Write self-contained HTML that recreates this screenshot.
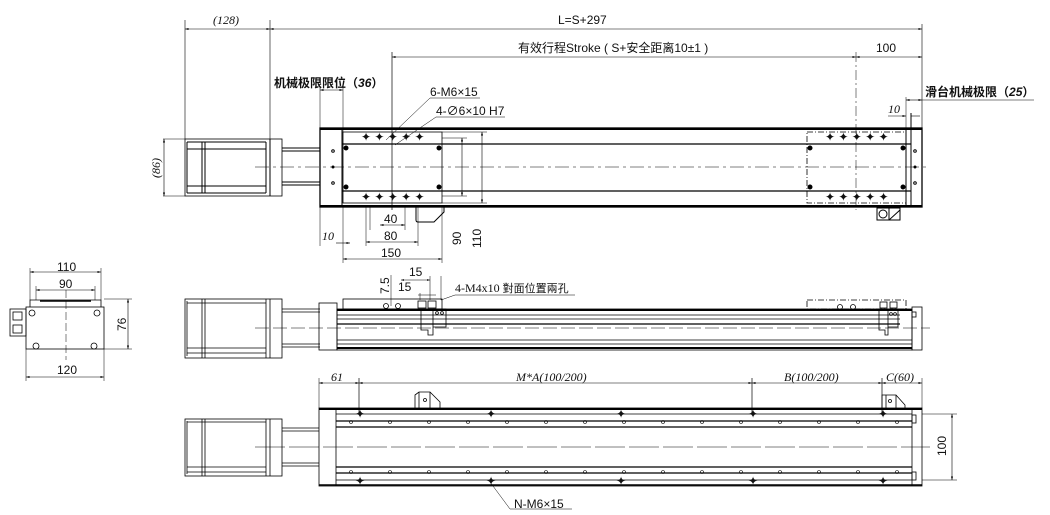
<!DOCTYPE html>
<html><head><meta charset="utf-8"><style>
html,body{margin:0;padding:0;background:#fff;}
svg{display:block;font-family:"Liberation Sans","Noto Sans CJK SC",sans-serif;}
.t{font-size:12px;fill:#111;}
.s{font-family:"Liberation Serif","Noto Serif CJK SC",serif;font-style:italic;font-size:12px;fill:#111;}
</style></head><body>
<svg width="1050" height="515" viewBox="0 0 1050 515" xmlns="http://www.w3.org/2000/svg">
<defs>
<marker id="a" viewBox="0 0 10 10" refX="10" refY="5" markerWidth="6" markerHeight="6" orient="auto-start-reverse"><path d="M0,2 L10,5 L0,8z" fill="#000"/></marker>
</defs>
<g stroke="#000" stroke-width="1" fill="none">
<!-- ===== TOP VIEW ===== -->
<line x1="185" y1="20" x2="185" y2="139" stroke-width=".6"/>
<line x1="270" y1="20" x2="270" y2="139" stroke-width=".6"/>
<line x1="185" y1="29" x2="270" y2="29" stroke-width=".6" marker-start="url(#a)" marker-end="url(#a)"/>
<line x1="270" y1="29" x2="922" y2="29" stroke-width=".6" marker-start="url(#a)" marker-end="url(#a)"/>
<line x1="922" y1="24" x2="922" y2="128" stroke-width=".6"/>
<line x1="392" y1="57" x2="856" y2="57" stroke-width=".6" marker-start="url(#a)" marker-end="url(#a)"/>
<line x1="856" y1="57" x2="922" y2="57" stroke-width=".6" marker-start="url(#a)" marker-end="url(#a)"/>
<line x1="392" y1="52" x2="392" y2="210" stroke-width=".7"/>
<line x1="856" y1="52" x2="856" y2="210" stroke-width=".5" stroke-dasharray="10,3,2,3"/>
<!-- motor -->
<rect x="185" y="139" width="97" height="57" stroke-width=".8"/>
<line x1="187" y1="142" x2="187" y2="193"/><line x1="202" y1="142" x2="202" y2="193"/><line x1="205" y1="142" x2="205" y2="193"/>
<line x1="266" y1="142" x2="266" y2="193"/><line x1="270" y1="139" x2="270" y2="196"/>
<line x1="187" y1="142" x2="266" y2="142"/><line x1="187" y1="149" x2="266" y2="149"/>
<line x1="187" y1="186" x2="266" y2="186"/><line x1="187" y1="193" x2="266" y2="193"/>
<line x1="282" y1="148" x2="320" y2="148"/><line x1="282" y1="151" x2="320" y2="151"/>
<line x1="282" y1="182" x2="320" y2="182"/><line x1="282" y1="185" x2="320" y2="185"/>
<line x1="163" y1="139" x2="185" y2="139" stroke-width=".5"/><line x1="163" y1="196" x2="185" y2="196" stroke-width=".5"/>
<line x1="164" y1="139" x2="164" y2="196" stroke-width=".6" marker-start="url(#a)" marker-end="url(#a)"/>
<!-- body -->
<rect x="320" y="128" width="602" height="79" stroke-width="1.3"/>
<line x1="320" y1="129" x2="922" y2="129" stroke-width="2"/>
<line x1="320" y1="206" x2="922" y2="206" stroke-width="2"/>
<line x1="342" y1="128" x2="342" y2="207"/>
<line x1="342" y1="144" x2="911" y2="144" stroke-width="1.2"/>
<line x1="342" y1="191" x2="911" y2="191" stroke-width="1.2"/>
<line x1="906" y1="128" x2="906" y2="207"/><line x1="911" y1="113" x2="911" y2="207"/>
<line x1="255" y1="167" x2="930" y2="167" stroke-width=".5" stroke-dasharray="14,4,3,4"/>
<circle cx="333" cy="151" r="1.3"/><circle cx="333" cy="167" r="1" fill="#000"/><circle cx="333" cy="183" r="1.3"/>
<circle cx="915" cy="151" r="1.3"/><circle cx="915" cy="167" r="1" fill="#000"/><circle cx="915" cy="183" r="1.3"/>
<!-- left carriage -->
<rect x="343" y="132" width="99" height="71" stroke-width=".8"/>
<circle cx="346" cy="148" r="2" fill="#000"/><circle cx="439" cy="148" r="2" fill="#000"/>
<circle cx="346" cy="187" r="2" fill="#000"/><circle cx="439" cy="187" r="2" fill="#000"/>
<!-- right carriage -->
<rect x="807" y="132" width="99" height="71" stroke-width=".8" stroke-dasharray="6,2,1,2"/>
<circle cx="810" cy="148" r="2" fill="#000"/><circle cx="903" cy="148" r="2" fill="#000"/>
<circle cx="810" cy="187" r="2" fill="#000"/><circle cx="903" cy="187" r="2" fill="#000"/>
<!-- brackets -->
<path d="M416 205 V220 Q416 222 418 222 H434 L444 212 V207"/>
<rect x="877" y="208" width="12" height="12"/><circle cx="883" cy="214" r="4"/><path d="M889 208 H900 V220 H889 M889 220 L900 210"/>
<!-- dims top view -->
<line x1="370" y1="205" x2="370" y2="230" stroke-width=".5"/><line x1="405" y1="205" x2="405" y2="230" stroke-width=".5"/>
<line x1="380" y1="225" x2="405" y2="225" stroke-width=".6" marker-start="url(#a)" marker-end="url(#a)"/>
<line x1="366" y1="205" x2="366" y2="246" stroke-width=".5"/><line x1="418" y1="205" x2="418" y2="246" stroke-width=".5"/>
<line x1="366" y1="242" x2="418" y2="242" stroke-width=".6" marker-start="url(#a)" marker-end="url(#a)"/>
<line x1="343" y1="207" x2="343" y2="263" stroke-width=".5"/><line x1="442" y1="207" x2="442" y2="263" stroke-width=".5"/>
<line x1="343" y1="259" x2="442" y2="259" stroke-width=".6" marker-start="url(#a)" marker-end="url(#a)"/>
<line x1="336" y1="243" x2="350" y2="243" stroke-width=".6" marker-end="url(#a)"/>
<line x1="320" y1="207" x2="320" y2="246" stroke-width=".5"/>
<line x1="442" y1="138" x2="467" y2="138" stroke-width=".5"/><line x1="442" y1="196" x2="467" y2="196" stroke-width=".5"/>
<line x1="462" y1="138" x2="462" y2="196" stroke-width=".6" marker-start="url(#a)" marker-end="url(#a)"/>
<line x1="442" y1="132" x2="487" y2="132" stroke-width=".5"/><line x1="442" y1="203" x2="487" y2="203" stroke-width=".5"/>
<line x1="482" y1="132" x2="482" y2="203" stroke-width=".6" marker-start="url(#a)" marker-end="url(#a)"/>
<line x1="320" y1="86" x2="320" y2="128" stroke-width=".5"/><line x1="343" y1="86" x2="343" y2="132" stroke-width=".5"/>
<line x1="320" y1="90" x2="343" y2="90" stroke-width=".6" marker-start="url(#a)" marker-end="url(#a)"/>
<line x1="386" y1="140" x2="430" y2="98" stroke-width=".5"/><line x1="430" y1="98" x2="480" y2="98" stroke-width=".5"/>
<line x1="395" y1="145" x2="436" y2="117" stroke-width=".5"/><line x1="436" y1="117" x2="505" y2="117" stroke-width=".5"/>
<line x1="906" y1="97" x2="906" y2="128" stroke-width=".5"/>
<line x1="906" y1="100" x2="922" y2="100" stroke-width=".6" marker-start="url(#a)" marker-end="url(#a)"/>
<line x1="922" y1="100" x2="1034" y2="100" stroke-width=".6"/>
<line x1="888" y1="116" x2="906" y2="116" stroke-width=".6" marker-end="url(#a)"/>
<line x1="911" y1="116" x2="920" y2="116" stroke-width=".6"/>
</g>
<g fill="#000">
<!-- crosses top carriages -->
<g font-size="10" class="t">
<text x="361" y="141" class="t">✦ ✦ ✦ ✦ ✦</text>
<text x="361" y="201" class="t">✦ ✦ ✦ ✦ ✦</text>
<text x="825" y="141" class="t">✦ ✦ ✦ ✦ ✦</text>
<text x="825" y="201" class="t">✦ ✦ ✦ ✦ ✦</text>
</g>
</g>
<text x="213" y="24" class="s">(128)</text>
<text x="558" y="24" class="t">L=S+297</text>
<text x="518" y="52" class="t">有效行程Stroke ( S+安全距离10±1 )</text>
<text x="876" y="52" class="t">100</text>
<text x="274" y="87" class="t" font-weight="bold">机械极限限位（<tspan font-style="italic">36</tspan>）</text>
<text x="925" y="96" class="t" font-weight="bold">滑台机械极限（<tspan font-style="italic">25</tspan>）</text>
<text x="430" y="96" class="t">6-M6×15</text>
<text x="436" y="115" class="t">4-∅6×10 H7</text>
<text x="888" y="113" class="s">10</text>
<text x="322" y="240" class="s">10</text>
<text x="384" y="223" class="t">40</text>
<text x="384" y="240" class="t">80</text>
<text x="381" y="257" class="t">150</text>
<text transform="translate(461,245) rotate(-90)" class="t">90</text>
<text transform="translate(481,248) rotate(-90)" class="t">110</text>
<text transform="translate(160,178) rotate(-90)" class="s">(86)</text>

<!-- ===== END VIEW ===== -->
<g stroke="#000" fill="none" stroke-width=".8">
<path d="M30 307 V300 H101 V307"/><line x1="40" y1="301" x2="91" y2="301" stroke-width="1.5"/>
<rect x="26" y="307" width="78" height="42"/>
<rect x="10" y="309" width="16" height="27"/><rect x="13" y="312" width="9" height="8"/><rect x="13" y="325" width="9" height="8"/>
<circle cx="32" cy="313" r="3"/><circle cx="97" cy="313" r="3"/><circle cx="36" cy="346" r="3"/><circle cx="94" cy="346" r="3"/>
<line x1="66" y1="290" x2="66" y2="360" stroke-width=".5" stroke-dasharray="8,3"/>
<line x1="30" y1="268" x2="30" y2="300" stroke-width=".5"/><line x1="101" y1="268" x2="101" y2="300" stroke-width=".5"/>
<line x1="30" y1="272" x2="101" y2="272" stroke-width=".6" marker-start="url(#a)" marker-end="url(#a)"/>
<line x1="36" y1="286" x2="36" y2="300" stroke-width=".5"/><line x1="95" y1="286" x2="95" y2="300" stroke-width=".5"/>
<line x1="36" y1="290" x2="95" y2="290" stroke-width=".6" marker-start="url(#a)" marker-end="url(#a)"/>
<line x1="104" y1="299" x2="132" y2="299" stroke-width=".5"/><line x1="104" y1="349" x2="132" y2="349" stroke-width=".5"/>
<line x1="128" y1="299" x2="128" y2="349" stroke-width=".6" marker-start="url(#a)" marker-end="url(#a)"/>
<line x1="26" y1="349" x2="26" y2="381" stroke-width=".5"/><line x1="104" y1="349" x2="104" y2="381" stroke-width=".5"/>
<line x1="26" y1="377" x2="104" y2="377" stroke-width=".6" marker-start="url(#a)" marker-end="url(#a)"/>
</g>
<text x="57" y="271" class="t">110</text>
<text x="59" y="288" class="t">90</text>
<text x="57" y="374" class="t">120</text>
<text transform="translate(126,331) rotate(-90)" class="t">76</text>

<!-- ===== SIDE VIEW ===== -->
<g stroke="#000" fill="none" stroke-width=".8">
<rect x="185" y="299" width="97" height="59"/>
<line x1="187" y1="301" x2="187" y2="356"/><line x1="202" y1="299" x2="202" y2="358"/><line x1="205" y1="299" x2="205" y2="358"/>
<line x1="266" y1="299" x2="266" y2="358"/><line x1="270" y1="299" x2="270" y2="358"/>
<line x1="187" y1="303" x2="266" y2="303"/><line x1="187" y1="348" x2="266" y2="348"/><line x1="187" y1="353" x2="266" y2="353"/>
<line x1="282" y1="309" x2="320" y2="309"/><line x1="282" y1="312" x2="320" y2="312"/>
<line x1="282" y1="344" x2="320" y2="344"/><line x1="282" y1="347" x2="320" y2="347"/>
<rect x="319" y="303" width="18" height="47"/>
<rect x="337" y="309" width="575" height="41"/>
<line x1="337" y1="310" x2="912" y2="310" stroke-width="2"/>
<line x1="337" y1="315" x2="900" y2="315"/><line x1="337" y1="319" x2="900" y2="319"/>
<line x1="337" y1="324" x2="900" y2="324" stroke-width="1.3"/>
<line x1="337" y1="340" x2="912" y2="340"/><line x1="337" y1="344" x2="912" y2="344"/>
<line x1="337" y1="348" x2="912" y2="348" stroke-width="2"/>
<line x1="255" y1="328" x2="930" y2="328" stroke-width=".5" stroke-dasharray="14,4"/>
<rect x="912" y="307" width="10" height="43"/>
<rect x="343" y="299" width="99" height="10"/>
<path d="M421 309 V330 H428 V335 H433 V309"/><path d="M433 309 H446 V327 H433"/>
<circle cx="437" cy="313" r="1.4"/><circle cx="442" cy="313" r="1.4"/>
<circle cx="386" cy="306" r="2.5"/><circle cx="398" cy="306" r="2.5"/>
<rect x="418" y="301" width="8" height="7"/><rect x="428" y="301" width="8" height="7"/>
<rect x="807" y="300" width="99" height="9" stroke-dasharray="6,2,1,2"/>
<path d="M879 310 V330 H885 V335 H888 V310"/><path d="M888 310 H898 V327 H888"/>
<circle cx="891" cy="314" r="1.4"/><circle cx="895" cy="314" r="1.4"/>
<circle cx="840" cy="307" r="2.5"/><circle cx="853" cy="307" r="2.5"/>
<rect x="880" y="302" width="7" height="6"/><rect x="890" y="302" width="7" height="6"/>
<rect x="912" y="312" width="4" height="5"/>
<line x1="391" y1="275" x2="391" y2="306" stroke-width=".5"/>
<line x1="401" y1="280" x2="430" y2="280" stroke-width=".5" marker-start="url(#a)" marker-end="url(#a)"/>
<line x1="430" y1="276" x2="430" y2="300" stroke-width=".5"/><line x1="441" y1="276" x2="441" y2="300" stroke-width=".5"/>
<line x1="420" y1="293" x2="420" y2="300" stroke-width=".5"/>
<line x1="418" y1="295" x2="436" y2="295" stroke-width=".5"/>
<line x1="441" y1="300" x2="455" y2="295" stroke-width=".5"/><line x1="455" y1="295" x2="575" y2="295" stroke-width=".5"/>
</g>
<text transform="translate(389,294) rotate(-90)" class="t">7.5</text>
<text x="409" y="276" class="t">15</text>
<text x="398" y="291" class="t">15</text>
<text x="455" y="292" class="t" font-family="Liberation Serif,serif">4-M4x10 <tspan font-size="11">對面位置兩孔</tspan></text>

<!-- ===== BOTTOM VIEW ===== -->
<g stroke="#000" fill="none" stroke-width=".8">
<rect x="185" y="419" width="97" height="57"/>
<line x1="187" y1="421" x2="187" y2="474"/><line x1="202" y1="419" x2="202" y2="476"/><line x1="205" y1="419" x2="205" y2="476"/>
<line x1="266" y1="419" x2="266" y2="476"/><line x1="270" y1="419" x2="270" y2="476"/>
<line x1="187" y1="422" x2="266" y2="422"/><line x1="187" y1="467" x2="266" y2="467"/><line x1="187" y1="472" x2="266" y2="472"/>
<line x1="282" y1="428" x2="319" y2="428"/><line x1="282" y1="431" x2="319" y2="431"/>
<line x1="282" y1="463" x2="319" y2="463"/><line x1="282" y1="466" x2="319" y2="466"/>
<rect x="319" y="408" width="603" height="78"/>
<line x1="319" y1="409" x2="922" y2="409" stroke-width="2"/>
<line x1="319" y1="485" x2="922" y2="485" stroke-width="1.6"/>
<line x1="336" y1="409" x2="336" y2="486"/>
<line x1="912" y1="409" x2="912" y2="486"/>
<line x1="336" y1="414" x2="912" y2="414"/><line x1="336" y1="421" x2="912" y2="421" stroke-width="1.2"/>
<line x1="336" y1="427" x2="912" y2="427" stroke-width="1.2"/>
<line x1="336" y1="467" x2="912" y2="467" stroke-width="1.2"/><line x1="336" y1="473" x2="912" y2="473" stroke-width="1.2"/>
<line x1="336" y1="480" x2="912" y2="480"/>
<line x1="255" y1="447" x2="930" y2="447" stroke-width=".5" stroke-dasharray="30,4"/>
<rect x="912" y="415" width="4" height="8"/><rect x="912" y="472" width="4" height="8"/>
<g stroke-width=".6">
<circle cx="351" cy="422" r="1.5"/><circle cx="390" cy="422" r="1.5"/><circle cx="429" cy="422" r="1.5"/><circle cx="468" cy="422" r="1.5"/><circle cx="507" cy="422" r="1.5"/><circle cx="546" cy="422" r="1.5"/><circle cx="585" cy="422" r="1.5"/><circle cx="624" cy="422" r="1.5"/><circle cx="663" cy="422" r="1.5"/><circle cx="702" cy="422" r="1.5"/><circle cx="741" cy="422" r="1.5"/><circle cx="780" cy="422" r="1.5"/><circle cx="819" cy="422" r="1.5"/><circle cx="858" cy="422" r="1.5"/><circle cx="897" cy="422" r="1.5"/>
<circle cx="351" cy="472" r="1.5"/><circle cx="390" cy="472" r="1.5"/><circle cx="429" cy="472" r="1.5"/><circle cx="468" cy="472" r="1.5"/><circle cx="507" cy="472" r="1.5"/><circle cx="546" cy="472" r="1.5"/><circle cx="585" cy="472" r="1.5"/><circle cx="624" cy="472" r="1.5"/><circle cx="663" cy="472" r="1.5"/><circle cx="702" cy="472" r="1.5"/><circle cx="741" cy="472" r="1.5"/><circle cx="780" cy="472" r="1.5"/><circle cx="819" cy="472" r="1.5"/><circle cx="858" cy="472" r="1.5"/><circle cx="897" cy="472" r="1.5"/>
</g>
<path d="M415 408 V395 L419 392 H430 L440 402 V408 M419 392 V408 M430 392 V408"/><circle cx="425" cy="400" r="1.5"/>
<path d="M882 408 V395 H896 L905 405 V408 M886 395 V408 M896 395 V408"/><circle cx="890" cy="401" r="1.5"/>
<line x1="319" y1="378" x2="319" y2="408" stroke-width=".5"/><line x1="922" y1="378" x2="922" y2="408" stroke-width=".5"/>
<line x1="359" y1="378" x2="359" y2="414" stroke-width=".7"/><line x1="752" y1="378" x2="752" y2="414" stroke-width=".7"/><line x1="882" y1="378" x2="882" y2="414" stroke-width=".7"/>
<line x1="319" y1="383" x2="359" y2="383" stroke-width=".6" marker-start="url(#a)" marker-end="url(#a)"/>
<line x1="359" y1="383" x2="752" y2="383" stroke-width=".6" marker-start="url(#a)" marker-end="url(#a)"/>
<line x1="752" y1="383" x2="882" y2="383" stroke-width=".6" marker-start="url(#a)" marker-end="url(#a)"/>
<line x1="882" y1="383" x2="922" y2="383" stroke-width=".6" marker-start="url(#a)" marker-end="url(#a)"/>
<line x1="922" y1="414" x2="957" y2="414" stroke-width=".5"/><line x1="922" y1="480" x2="957" y2="480" stroke-width=".5"/>
<line x1="952" y1="414" x2="952" y2="480" stroke-width=".6" marker-start="url(#a)" marker-end="url(#a)"/>
<line x1="490" y1="482" x2="510" y2="509" stroke-width=".5"/><line x1="510" y1="509" x2="572" y2="509" stroke-width=".5"/>
</g>
<g class="t" font-size="10">
<text x="355" y="418">✦</text><text x="486" y="418">✦</text><text x="616" y="418">✦</text><text x="748" y="418">✦</text><text x="878" y="418">✦</text>
<text x="355" y="485">✦</text><text x="486" y="485">✦</text><text x="616" y="485">✦</text><text x="748" y="485">✦</text><text x="878" y="485">✦</text>
</g>
<text x="331" y="381" class="s">61</text>
<text x="516" y="381" class="s">M*A(100/200)</text>
<text x="784" y="381" class="s">B(100/200)</text>
<text x="886" y="381" class="s">C(60)</text>
<text transform="translate(946,456) rotate(-90)" class="t">100</text>
<text x="514" y="508" class="t">N-M6×15</text>
</svg>
</body></html>
